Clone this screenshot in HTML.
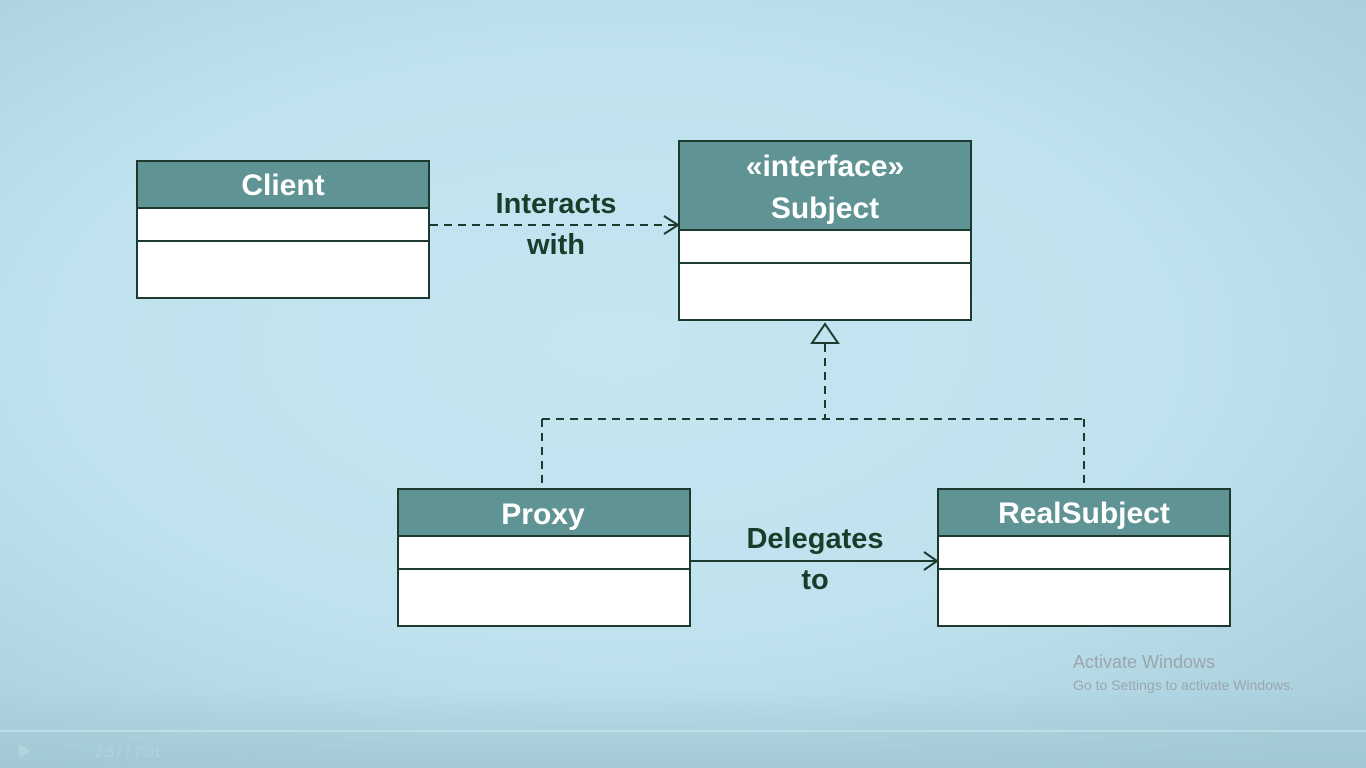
<!DOCTYPE html>
<html><head><style>
html,body{margin:0;padding:0;width:1366px;height:768px;overflow:hidden}
body{background:radial-gradient(ellipse 75% 70% at 45% 45%,#c4e6f1 0%,#bfe2ee 55%,#a9cfdc 100%);}
svg{position:absolute;left:0;top:0}
text{font-family:"Liberation Sans",sans-serif}
</style></head><body>
<svg width="1366" height="768" viewBox="0 0 1366 768">
<defs><linearGradient id="bt" x1="0" y1="0" x2="0" y2="1"><stop offset="0" stop-color="#9fc6d2" stop-opacity="0"/><stop offset="1" stop-color="#9fc6d2" stop-opacity="0.8"/></linearGradient></defs>
<rect x="0" y="690" width="1366" height="78" fill="url(#bt)"/>
<g stroke="#1d3a2e" stroke-width="2">
<rect x="137" y="161" width="292" height="137" fill="#fff"/>
<rect x="137" y="161" width="292" height="47" fill="#5f9394"/>
<line x1="137" y1="241" x2="429" y2="241"/>
<rect x="679" y="141" width="292" height="179" fill="#fff"/>
<rect x="679" y="141" width="292" height="89" fill="#5f9394"/>
<line x1="679" y1="263" x2="971" y2="263"/>
<rect x="398" y="489" width="292" height="137" fill="#fff"/>
<rect x="398" y="489" width="292" height="47" fill="#5f9394"/>
<line x1="398" y1="569" x2="690" y2="569"/>
<rect x="938" y="489" width="292" height="137" fill="#fff"/>
<rect x="938" y="489" width="292" height="47" fill="#5f9394"/>
<line x1="938" y1="569" x2="1230" y2="569"/>
</g>
<g stroke="#1d3a2e" stroke-width="2" fill="none">
<line x1="430" y1="225" x2="676" y2="225" stroke-dasharray="8,6"/>
<polyline points="664,216 678,225 664,234"/>
<polygon points="825,324 812,343 838,343" fill="#c2e4ef"/>
<polyline points="825,344 825,419" stroke-dasharray="8,6"/>
<line x1="542" y1="419" x2="1084" y2="419" stroke-dasharray="8,6"/>
<line x1="542" y1="419" x2="542" y2="489" stroke-dasharray="8,6"/>
<line x1="1084" y1="419" x2="1084" y2="489" stroke-dasharray="8,6"/>
<line x1="691" y1="561" x2="936" y2="561"/>
<polyline points="924,552 937,561 924,570"/>
</g>
<g fill="#fff" font-weight="bold" font-size="30" text-anchor="middle">
<text x="283" y="195">Client</text>
<text x="825" y="176">«interface»</text>
<text x="825" y="218">Subject</text>
<text x="543" y="524">Proxy</text>
<text x="1084" y="523">RealSubject</text>
</g>
<g fill="#173d2b" font-weight="bold" font-size="29" text-anchor="middle">
<text x="556" y="213">Interacts</text>
<text x="556" y="254">with</text>
<text x="815" y="548">Delegates</text>
<text x="815" y="589">to</text>
</g>
<g fill="#9aa6ab" font-size="18"><text x="1073" y="668">Activate Windows</text></g>
<g fill="#9aa6ab" font-size="14"><text x="1073" y="690">Go to Settings to activate Windows.</text></g>
<line x1="0" y1="731" x2="1366" y2="731" stroke="#cfe9ee" stroke-width="2" opacity="0.6"/>
<g fill="#b5d3dc"><polygon points="19,744 19,758 31,751"/><text x="95" y="757" font-size="14">2:57 / 7:01</text></g>
</svg>
</body></html>
